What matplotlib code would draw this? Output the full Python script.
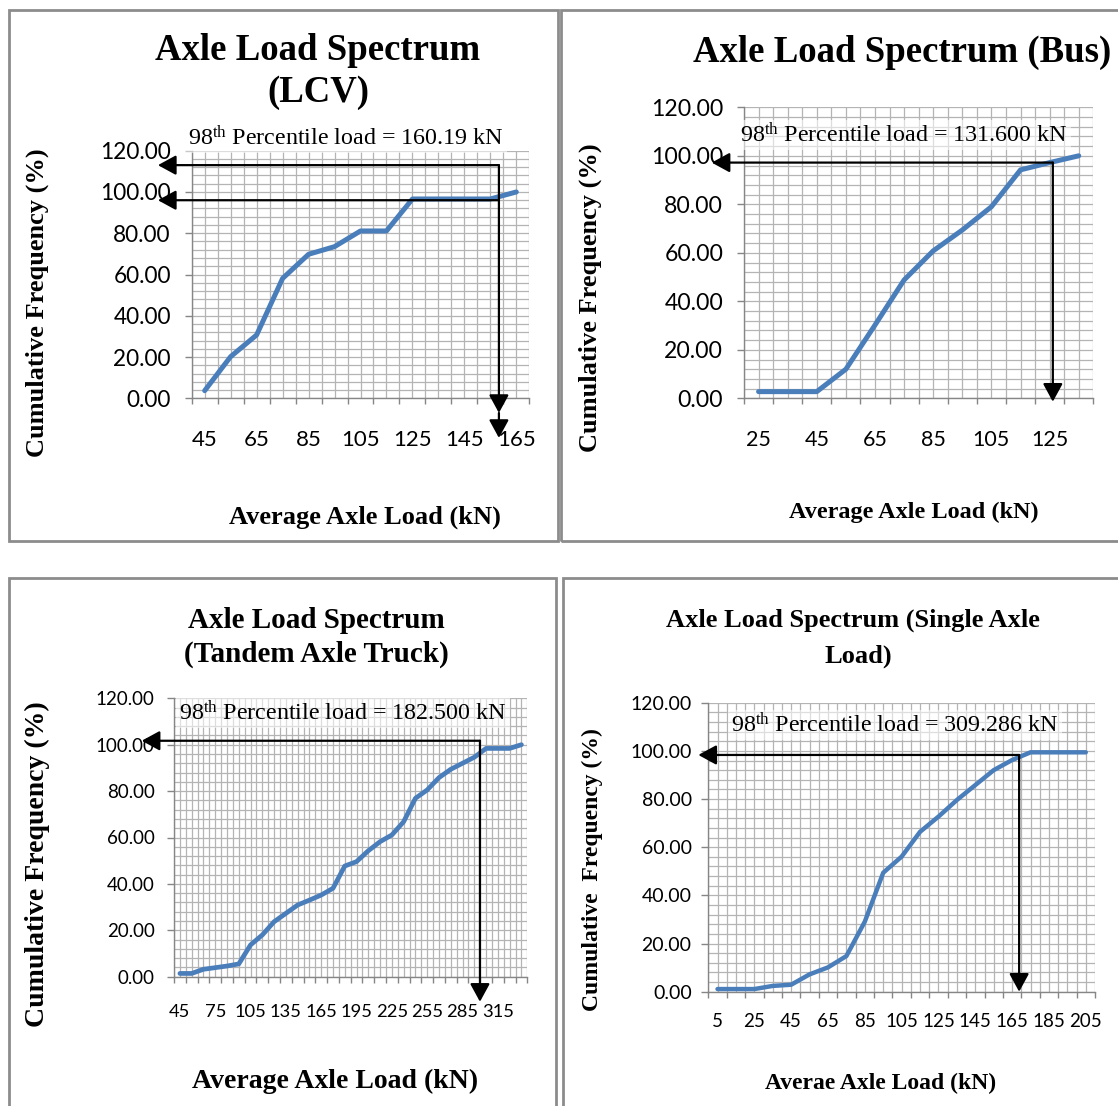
import numpy as np
import matplotlib
matplotlib.use("Agg")
import matplotlib.pyplot as plt
from matplotlib.patches import Rectangle

plt.rcParams['mathtext.fontset'] = 'custom'
plt.rcParams['mathtext.rm'] = 'Liberation Serif'
plt.rcParams['mathtext.it'] = 'Liberation Serif:italic'
plt.rcParams['mathtext.bf'] = 'Liberation Serif:bold'

# ---------------- data ----------------
lcv_loads = [45, 55, 65, 75, 85, 95, 105, 115, 125, 135, 145, 155, 165]
lcv_cum = [3.7, 20.2, 30.7, 58.1, 69.8, 73.5, 81.1, 81.1, 96.6, 96.6, 96.6, 96.6, 100.0]

bus_loads = [25, 35, 45, 55, 65, 75, 85, 95, 105, 115, 125, 135]
bus_cum = [2.75, 2.75, 2.75, 12.0, 30.2, 48.8, 60.8, 69.4, 79.0, 94.2, 97.2, 100.0]

tandem_loads = [45, 55, 65, 75, 85, 95, 105, 115, 125, 135, 145, 155, 165, 175, 185,
                195, 205, 215, 225, 235, 245, 255, 265, 275, 285, 295, 305, 315, 325, 335]
tandem_cum = [1.4, 1.4, 3.2, 3.9, 4.6, 5.5, 13.7, 18.0, 23.7, 27.3, 30.9, 33.0, 35.2, 38.1, 47.7,
              49.6, 54.3, 58.2, 61.1, 66.8, 76.9, 80.5, 85.8, 89.4, 92.0, 94.6, 98.4, 98.4, 98.4, 100.0]

single_loads = [5, 15, 25, 35, 45, 55, 65, 75, 85, 95, 105, 115, 125, 135, 145,
                155, 165, 175, 185, 195, 205]
single_cum = [1.1, 1.1, 1.1, 2.4, 2.9, 7.2, 10.1, 14.8, 29.1, 49.4, 56.1, 66.4, 72.7, 79.6, 85.8,
              92.0, 96.2, 99.4, 99.4, 99.4, 99.4]

yticks = [0, 20, 40, 60, 80, 100, 120]

W, H = 1118, 1106
fig = plt.figure(figsize=(W / 100, H / 100), dpi=100)
fig.patch.set_facecolor('white')

GRID = '#b4b4b4'
AXC = '#868686'
LINE = '#4a7ebb'
SERIF = 'Liberation Serif'


def px_axes(l, t, r, b):
    return fig.add_axes([l / W, 1 - b / H, (r - l) / W, (b - t) / H])


def ftext(x, y, s, **kw):
    kw.setdefault('ha', 'center')
    kw.setdefault('va', 'center')
    return fig.text(x / W, 1 - y / H, s, **kw)


def setup(ax, loads, cum, step, yfs, xfs, ypad, xpad, lw=3.6):
    n = len(loads)
    x = np.arange(n)
    ax.set_xlim(-0.5, n - 0.5)
    ax.set_ylim(0, 120)
    ax.set_facecolor('white')
    for v in np.arange(-0.5, n - 0.25, 0.5):
        ax.axvline(v, color=GRID, lw=0.9, zorder=0)
    for v in range(0, 121, 4):
        ax.axhline(v, color=GRID, lw=0.9, zorder=0)
    for s in ['top', 'right']:
        ax.spines[s].set_visible(False)
    for s in ['left', 'bottom']:
        ax.spines[s].set_color(AXC)
        ax.spines[s].set_linewidth(1.0)
        ax.spines[s].set_zorder(1)
    ax.set_yticks(yticks, labels=[f'{v:.2f}' for v in yticks])
    ax.set_xticks(np.arange(-0.5, n, 1.0), labels=[''] * (n + 1))
    ax.set_xticks(x[::step], labels=[str(v) for v in loads[::step]], minor=True)
    ax.tick_params(axis='y', which='major', length=5, width=1, color=AXC,
                   labelsize=yfs, pad=ypad, labelfontfamily='Lato', labelcolor='black')
    ax.tick_params(axis='x', which='major', length=4, width=1, color=AXC)
    ax.tick_params(axis='x', which='minor', length=0, labelsize=xfs, pad=xpad,
                   labelfontfamily='Lato', labelcolor='black')
    ax.plot(x, cum, color=LINE, lw=lw, solid_capstyle='round', solid_joinstyle='round',
            zorder=3, clip_on=False)


def arrow(ax, start, end):
    ax.annotate('', xy=end, xytext=start,
                arrowprops=dict(arrowstyle='-|>,head_length=0.55,head_width=0.3', color='black',
                                lw=1.6, shrinkA=0, shrinkB=0, mutation_scale=20),
                annotation_clip=False, zorder=6)


ann_box = dict(facecolor='white', alpha=0.55, edgecolor='none', pad=2)

# ---------------- panel 1: LCV ----------------
ax1 = px_axes(191.7, 150.7, 529.3, 398.3)
setup(ax1, lcv_loads, lcv_cum, 2, 16.3, 16.0, 10, 23)
vx1 = 11.33
arrow(ax1, (vx1, 113), (-1.8, 113))
arrow(ax1, (vx1, 96), (-1.8, 96))
arrow(ax1, (vx1, 113), (vx1, -7.1))
arrow(ax1, (vx1, -7.1), (vx1, -19.2))
ftext(318, 50, 'Axle Load Spectrum', fontsize=26.5, fontweight='bold', family=SERIF)
ftext(318, 93, '(LCV)', fontsize=26.5, fontweight='bold', family=SERIF)
ftext(346, 138, r'98$^{\rm th}$ Percentile load = 160.19 kN', fontsize=17.3, family=SERIF, bbox=ann_box)
ftext(37, 303, 'Cumulative Frequency (%)', fontsize=19, fontweight='bold', family=SERIF, rotation=90)
ftext(365, 517, 'Average Axle Load (kN)', fontsize=19, fontweight='bold', family=SERIF)

# ---------------- panel 2: Bus ----------------
ax2 = px_axes(744, 107.3, 1093.3, 398.3)
setup(ax2, bus_loads, bus_cum, 2, 16.6, 15.5, 10, 23)
vx2 = 10.11
arrow(ax2, (vx2, 97.2), (-1.61, 97.2))
arrow(ax2, (vx2, 97.2), (vx2, -1.4))
ftext(902, 52, 'Axle Load Spectrum (Bus)', fontsize=26.5, fontweight='bold', family=SERIF)
ftext(904, 135, r'98$^{\rm th}$ Percentile load = 131.600 kN', fontsize=17.3, family=SERIF, bbox=ann_box)
ftext(590, 298, 'Cumulative Frequency (%)', fontsize=19, fontweight='bold', family=SERIF, rotation=90)
ftext(914, 512, 'Average Axle Load (kN)', fontsize=17.5, fontweight='bold', family=SERIF)

# ---------------- panel 3: Tandem ----------------
ax3 = px_axes(174, 698.3, 527.3, 976.7)
setup(ax3, tandem_loads, tandem_cum, 3, 13.5, 13.2, 9, 20, lw=3.4)
vx3 = 25.48
arrow(ax3, (vx3, 101.7), (-3.24, 101.7))
arrow(ax3, (vx3, 101.7), (vx3, -10.8))
ftext(316, 620, 'Axle Load Spectrum', fontsize=21, fontweight='bold', family=SERIF)
ftext(316, 654, '(Tandem Axle Truck)', fontsize=21, fontweight='bold', family=SERIF)
ftext(343, 713, r'98$^{\rm th}$ Percentile load = 182.500 kN', fontsize=17.3, family=SERIF, bbox=ann_box)
ftext(37, 864, 'Cumulative Frequency (%)', fontsize=20, fontweight='bold', family=SERIF, rotation=90)
ftext(335, 1081, 'Average Axle Load (kN)', fontsize=20, fontweight='bold', family=SERIF)

# ---------------- panel 4: Single axle ----------------
ax4 = px_axes(708.3, 702.7, 1095, 991.7)
setup(ax4, single_loads, single_cum, 2, 14.0, 13.5, 7, 15, lw=3.2)
vx4 = 16.38
arrow(ax4, (vx4, 98.3), (-1.04, 98.3))
arrow(ax4, (vx4, 98.3), (vx4, 0))
ftext(853, 620, 'Axle Load Spectrum (Single Axle', fontsize=19, fontweight='bold', family=SERIF)
ftext(858, 656, 'Load)', fontsize=19, fontweight='bold', family=SERIF)
ftext(895, 725, r'98$^{\rm th}$ Percentile load = 309.286 kN', fontsize=17.3, family=SERIF, bbox=ann_box)
ftext(592, 870, 'Cumulative  Frequency (%)', fontsize=17, fontweight='bold', family=SERIF, rotation=90)
ftext(881, 1083, 'Averae Axle Load (kN)', fontsize=17, fontweight='bold', family=SERIF)

# ---------------- frames ----------------
for (x0, y0, x1, y1) in [(9, 10, 558, 541), (561, 10, 1122, 541),
                         (9, 578, 556, 1110), (563, 578, 1122, 1110)]:
    fig.add_artist(Rectangle((x0 / W, 1 - y1 / H), (x1 - x0) / W, (y1 - y0) / H,
                             transform=fig.transFigure, fill=False, ec='#8c8c8c', lw=2.0))

fig.savefig('out.png', dpi=100, facecolor='white')
